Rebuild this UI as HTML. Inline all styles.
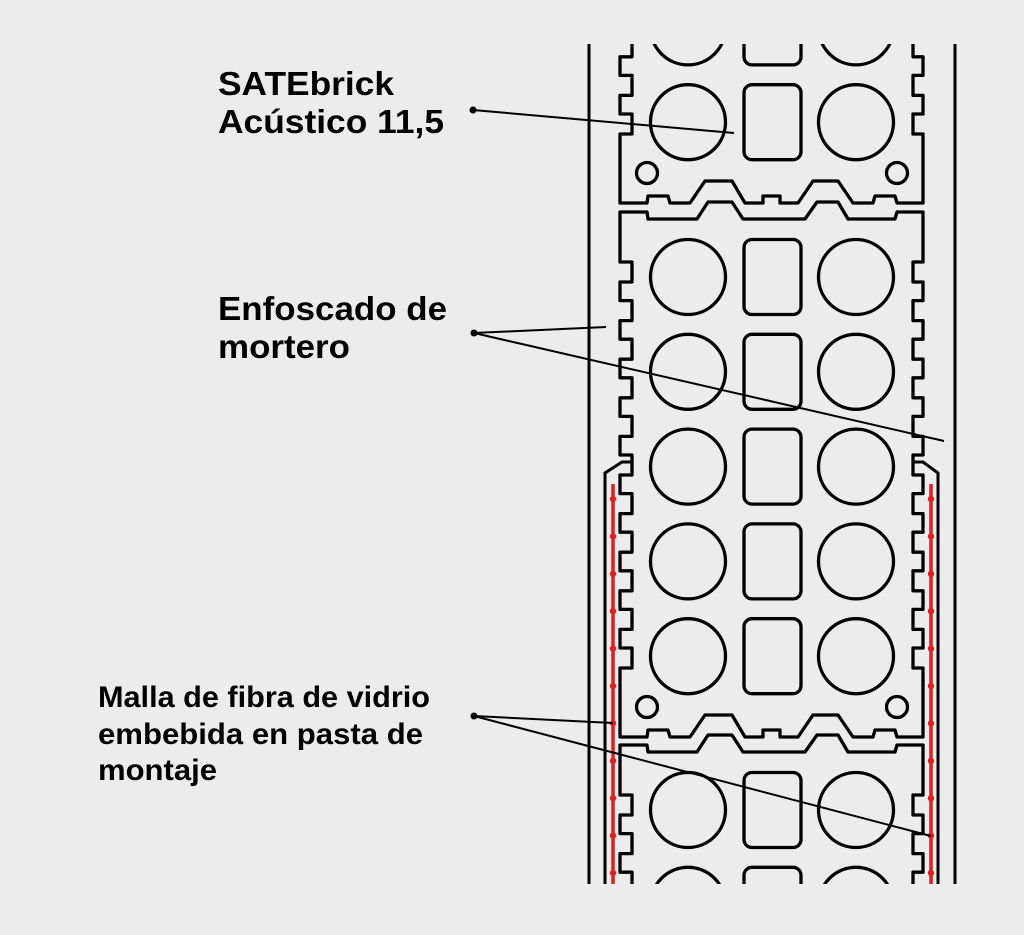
<!DOCTYPE html>
<html><head><meta charset="utf-8">
<style>
html,body{margin:0;padding:0;background:#ebeceb;overflow:hidden;}
svg{display:block;}
text{font-family:"Liberation Sans",Arial,sans-serif;font-weight:bold;fill:#000;}
</style></head>
<body>
<svg id="s" width="1024" height="935" viewBox="0 0 1024 935" xmlns="http://www.w3.org/2000/svg">
<rect width="1024" height="935" fill="#ebeceb"/>
<defs><clipPath id="c"><rect x="560" y="44" width="420" height="840"/></clipPath></defs>
<g id="bricks" clip-path="url(#c)" fill="none" stroke="#000" stroke-width="3.3" stroke-linejoin="round"></g>
<g fill="none" stroke="#000" stroke-width="3">
<line x1="589" y1="44" x2="589" y2="884"/>
<line x1="955" y1="44" x2="955" y2="884"/>
<polyline points="605,884 605,473 622,462 631,462"/>
<polyline points="938,884 938,473 923,462 914,462"/>
</g>
<g stroke="#e41e1e" stroke-width="3.5">
<line x1="613" y1="484" x2="613" y2="884"/>
<line x1="931" y1="484" x2="931" y2="884"/>
</g>
<g id="dots" fill="#e41e1e"></g>
<g stroke="#000" stroke-width="2" fill="none">
<line x1="473" y1="110" x2="734" y2="133"/>
<line x1="474" y1="333" x2="606" y2="327"/>
<line x1="474" y1="333" x2="944" y2="441"/>
<line x1="474" y1="716" x2="613" y2="723"/>
<line x1="474" y1="716" x2="931" y2="836"/>
</g>
<g fill="#000">
<circle cx="473" cy="110" r="3.5"/><circle cx="474" cy="333" r="3.5"/><circle cx="474" cy="716" r="3.5"/>
</g>
<text x="218" y="95" font-size="33" textLength="176" lengthAdjust="spacingAndGlyphs">SATEbrick</text>
<text x="218" y="133" font-size="33" textLength="226" lengthAdjust="spacingAndGlyphs">Acústico 11,5</text>
<text x="218" y="320" font-size="33" textLength="229" lengthAdjust="spacingAndGlyphs">Enfoscado de</text>
<text x="218" y="358" font-size="33" textLength="132" lengthAdjust="spacingAndGlyphs">mortero</text>
<text x="98" y="707" font-size="30" textLength="332" lengthAdjust="spacingAndGlyphs">Malla de fibra de vidrio</text>
<text x="98" y="744" font-size="30" textLength="325" lengthAdjust="spacingAndGlyphs">embebida en pasta de</text>
<text x="98" y="780" font-size="30" textLength="119" lengthAdjust="spacingAndGlyphs">montaje</text>
</svg>
<script>
(function(){
var NS="http://www.w3.org/2000/svg";
var g=document.getElementById("bricks");
function el(n,a){var e=document.createElementNS(NS,n);for(var k in a)e.setAttribute(k,a[k]);g.appendChild(e);return e;}
function brick(T){
  var B=T+525, p=[];
  p.push([620,T],[647,T],[648,T+7],[697,T+7],[708,T-10],[732,T-10],[743,T+7],[805,T+7],[817,T-10],[838,T-10],[848,T+7],[895,T+7],[897,T],[923,T]);
  var i,y;
  for(i=0;i<11;i++){y=T+50+i*38.6;p.push([923,y],[913,y],[913,y+20],[923,y+20]);}
  p.push([923,B]);
  p.push([897,B],[895,B-7],[875,B-7],[873,B],[853,B],[838,B-22],[813,B-22],[798,B],[780,B],[780,B-7],[763,B-7],[763,B],[745,B],[732,B-22],[705,B-22],[690,B],[670,B],[668,B-7],[648,B-7],[647,B],[620,B]);
  for(i=10;i>=0;i--){y=T+50+i*38.6;p.push([620,y+20],[632,y+20],[632,y],[620,y]);}
  el("polygon",{points:p.map(function(q){return q[0]+","+q[1];}).join(" ")});
  for(i=0;i<5;i++){
    var cy=T+65+i*94.8;
    el("circle",{cx:688,cy:cy,r:37.5});
    el("circle",{cx:856,cy:cy,r:37.5});
    el("rect",{x:744,y:cy-37.5,width:57,height:75,rx:8});
  }
  el("circle",{cx:647,cy:B-30,r:10.5});
  el("circle",{cx:897,cy:B-30,r:10.5});
}
brick(-322);brick(212);brick(745);
var d=document.getElementById("dots");
for(var k=0;k<11;k++){var yy=499+k*37.4;
 [613,931].forEach(function(x){var c=document.createElementNS(NS,"circle");c.setAttribute("cx",x);c.setAttribute("cy",yy);c.setAttribute("r",3.2);d.appendChild(c);});}
})();
</script>
</body></html>
